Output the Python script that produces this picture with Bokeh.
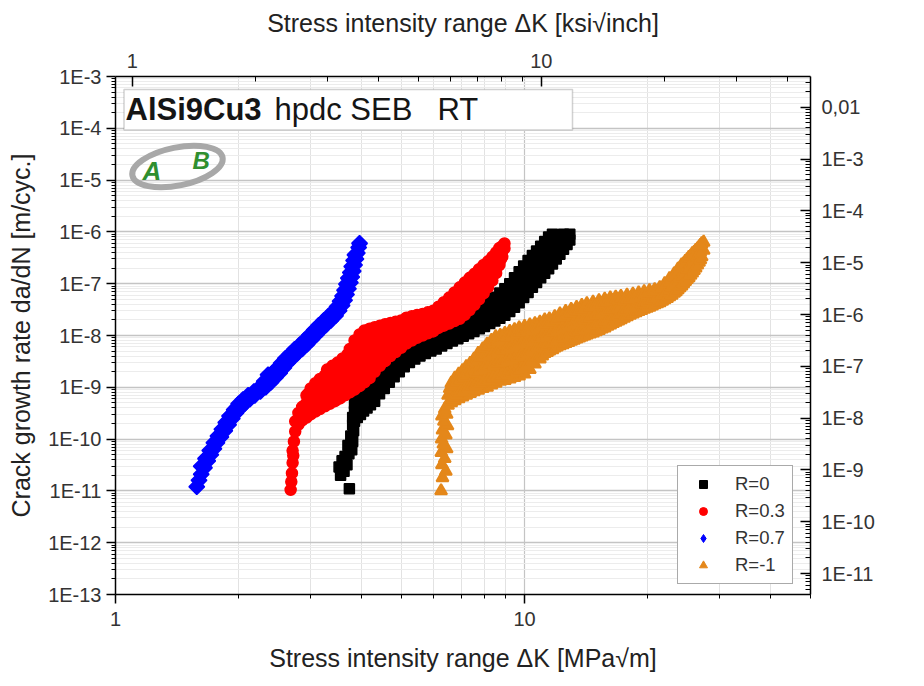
import math
from bokeh.plotting import figure
from bokeh.models import (Range1d, LogScale, LogAxis, FixedTicker, CustomJSTickFormatter,
                          Legend, LegendItem, BoxAnnotation, Label)
from bokeh.embed import file_html
from bokeh.resources import INLINE

# ---------------- data ----------------
# each row: (delta K [MPa*sqrt(m)], da/dN values [m/cycle] ...)
series_names = ["R=0", "R=0.3", "R=0.7", "R=-1"]

r0_rows = [
    (3.73, 1.1e-11), (3.55, 2.0e-11), (3.62, 2.4e-11), (3.52, 2.9e-11), (3.68, 3.2e-11),
    (3.58, 3.8e-11), (3.64, 4.6e-11), (3.72, 5.2e-11), (3.78, 6.2e-11), (3.70, 7.5e-11),
    (3.80, 9.0e-11), (3.76, 1.15e-10), (3.82, 1.45e-10),
    (3.80, 1.9e-10, 2.6e-10),
    (3.84, 2.2e-10, 3.4e-10, 4.8e-10),
    (3.90, 2.6e-10, 4.0e-10, 6.2e-10),
    (3.97, 3.0e-10, 4.8e-10, 7.8e-10),
    (4.04, 3.5e-10, 5.6e-10, 9.5e-10),
    (4.12, 4.0e-10, 6.6e-10, 1.15e-9),
    (4.20, 4.6e-10, 7.8e-10, 1.35e-9, 2.0e-9),
    (4.30, 5.4e-10, 9.0e-10, 1.5e-9, 2.4e-9),
    (4.42, 7.5e-10, 1.15e-9, 1.8e-9, 2.8e-9),
    (4.54, 9.5e-10, 1.4e-9, 2.1e-9, 3.2e-9),
    (4.67, 1.25e-9, 1.8e-9, 2.5e-9, 3.7e-9),
    (4.80, 1.6e-9, 2.2e-9, 3.0e-9, 4.2e-9),
    (4.94, 2.0e-9, 2.7e-9, 3.6e-9, 4.9e-9),
    (5.08, 2.5e-9, 3.3e-9, 4.3e-9, 5.7e-9),
    (5.23, 3.0e-9, 3.9e-9, 5.0e-9, 6.5e-9),
    (5.39, 3.5e-9, 4.5e-9, 5.8e-9, 7.5e-9),
    (5.55, 4.0e-9, 5.1e-9, 6.6e-9, 8.6e-9),
    (5.72, 4.5e-9, 5.8e-9, 7.6e-9, 1.0e-8),
    (5.90, 5.0e-9, 6.6e-9, 8.7e-9, 1.2e-8),
    (6.08, 5.5e-9, 7.5e-9, 1.0e-8, 1.4e-8),
    (6.27, 6.3e-9, 8.6e-9, 1.18e-8, 1.6e-8),
    (6.46, 7.0e-9, 9.6e-9, 1.3e-8, 1.8e-8),
    (6.66, 7.8e-9, 1.07e-8, 1.45e-8, 2.0e-8),
    (6.87, 8.7e-9, 1.2e-8, 1.6e-8, 2.2e-8),
    (7.08, 9.7e-9, 1.33e-8, 1.8e-8, 2.45e-8),
    (7.30, 1.08e-8, 1.48e-8, 2.0e-8, 2.75e-8),
    (7.52, 1.2e-8, 1.65e-8, 2.25e-8, 3.1e-8),
    (7.75, 1.35e-8, 1.85e-8, 2.55e-8, 3.5e-8),
    (7.98, 1.5e-8, 2.1e-8, 2.9e-8, 4.0e-8),
    (8.22, 1.7e-8, 2.35e-8, 3.3e-8, 4.7e-8),
    (8.46, 1.9e-8, 2.7e-8, 3.8e-8, 5.5e-8),
    (8.70, 2.15e-8, 3.1e-8, 4.5e-8, 6.6e-8),
    (8.95, 2.45e-8, 3.6e-8, 5.4e-8, 8.0e-8),
    (9.20, 2.9e-8, 4.3e-8, 6.6e-8, 1.0e-7),
    (9.45, 3.5e-8, 5.3e-8, 8.2e-8, 1.3e-7),
    (9.70, 4.3e-8, 6.6e-8, 1.05e-7, 1.7e-7),
    (9.95, 5.4e-8, 8.4e-8, 1.35e-7, 2.2e-7),
    (10.2, 6.8e-8, 1.07e-7, 1.75e-7, 2.8e-7),
    (10.45, 8.5e-8, 1.35e-7, 2.2e-7, 3.5e-7),
    (10.7, 1.05e-7, 1.7e-7, 2.8e-7, 4.3e-7),
    (10.95, 1.3e-7, 2.1e-7, 3.4e-7, 5.3e-7),
    (11.2, 1.6e-7, 2.6e-7, 4.2e-7, 6.5e-7),
    (11.45, 1.95e-7, 3.2e-7, 5.1e-7, 8.0e-7),
    (11.7, 2.4e-7, 3.9e-7, 6.2e-7, 9.0e-7),
    (11.95, 3.0e-7, 4.7e-7, 7.4e-7),
    (12.2, 3.7e-7, 5.7e-7, 8.5e-7),
    (12.45, 4.6e-7, 6.8e-7, 9.0e-7),
    (12.7, 5.7e-7, 8.0e-7),
    (12.9, 7.0e-7, 9.0e-7),
]

r03_rows = [
    (2.68, 1.05e-11), (2.69, 1.5e-11), (2.70, 2.2e-11), (2.71, 3.5e-11), (2.72, 4.8e-11),
    (2.71, 6.0e-11), (2.73, 9.0e-11),
    (2.75, 1.4e-10, 2.2e-10),
    (2.80, 1.9e-10, 3.2e-10),
    (2.86, 2.3e-10, 4.2e-10),
    (2.93, 2.6e-10, 5.0e-10, 7.0e-10),
    (3.00, 3.0e-10, 5.8e-10, 9.5e-10),
    (3.08, 3.4e-10, 6.6e-10, 1.2e-9),
    (3.16, 3.8e-10, 7.5e-10, 1.45e-9),
    (3.25, 4.3e-10, 8.5e-10, 1.7e-9),
    (3.34, 4.8e-10, 9.5e-10, 1.95e-9),
    (3.44, 5.4e-10, 1.1e-9, 2.3e-9),
    (3.54, 6.1e-10, 1.25e-9, 2.7e-9),
    (3.64, 7.0e-10, 1.45e-9, 3.2e-9),
    (3.74, 8.0e-10, 1.7e-9, 3.8e-9, 5.5e-9),
    (3.84, 9.0e-10, 2.0e-9, 4.5e-9, 8.0e-9),
    (3.95, 1.05e-9, 2.3e-9, 5.2e-9, 1.05e-8),
    (4.06, 1.25e-9, 2.6e-9, 5.8e-9, 1.25e-8),
    (4.18, 1.5e-9, 3.0e-9, 6.4e-9, 1.35e-8),
    (4.30, 2.0e-9, 3.6e-9, 7.0e-9, 1.45e-8),
    (4.43, 2.6e-9, 4.3e-9, 7.8e-9, 1.55e-8),
    (4.56, 3.2e-9, 5.0e-9, 8.6e-9, 1.65e-8),
    (4.70, 4.0e-9, 6.0e-9, 9.6e-9, 1.75e-8),
    (4.84, 4.8e-9, 7.0e-9, 1.06e-8, 1.85e-8),
    (4.99, 5.8e-9, 8.0e-9, 1.15e-8, 1.95e-8),
    (5.14, 7.0e-9, 1.0e-8, 1.5e-8, 2.2e-8),
    (5.30, 8.0e-9, 1.12e-8, 1.65e-8, 2.35e-8),
    (5.46, 9.0e-9, 1.25e-8, 1.8e-8, 2.5e-8),
    (5.63, 1.0e-8, 1.4e-8, 1.95e-8, 2.6e-8),
    (5.80, 1.1e-8, 1.5e-8, 2.1e-8, 2.8e-8),
    (5.98, 1.2e-8, 1.65e-8, 2.3e-8, 3.0e-8),
    (6.16, 1.4e-8, 1.9e-8, 2.6e-8, 3.6e-8),
    (6.35, 1.55e-8, 2.2e-8, 3.1e-8, 4.4e-8),
    (6.54, 1.7e-8, 2.5e-8, 3.7e-8, 5.4e-8),
    (6.74, 1.9e-8, 2.9e-8, 4.5e-8, 6.8e-8),
    (6.94, 2.1e-8, 3.4e-8, 5.5e-8, 8.5e-8),
    (7.14, 2.5e-8, 4.1e-8, 6.7e-8, 1.05e-7),
    (7.34, 3.1e-8, 5.0e-8, 8.2e-8, 1.3e-7),
    (7.54, 3.9e-8, 6.3e-8, 1.0e-7, 1.55e-7),
    (7.74, 5.0e-8, 8.0e-8, 1.25e-7, 1.9e-7),
    (7.94, 6.5e-8, 1.0e-7, 1.55e-7, 2.3e-7),
    (8.14, 8.5e-8, 1.3e-7, 1.9e-7, 2.7e-7),
    (8.34, 1.15e-7, 1.7e-7, 2.4e-7, 3.3e-7),
    (8.52, 1.6e-7, 2.2e-7, 3.0e-7, 4.0e-7),
    (8.68, 2.3e-7, 3.0e-7, 3.9e-7, 4.9e-7),
    (8.82, 3.3e-7, 4.2e-7, 5.3e-7),
    (8.93, 4.8e-7, 6.0e-7),
    # second specimen scatter (staggered points inside the band)
    (2.96, 4.0e-10, 7.5e-10), (3.04, 4.5e-10, 8.5e-10), (3.12, 5.0e-10, 9.5e-10),
    (3.20, 5.5e-10, 1.1e-9), (3.29, 6.2e-10, 1.25e-9, 2.2e-9), (3.39, 7.0e-10, 1.45e-9, 2.6e-9),
    (3.49, 8.0e-10, 1.65e-9, 3.0e-9), (3.59, 9.0e-10, 1.9e-9, 3.6e-9), (3.69, 1.0e-9, 2.2e-9, 4.3e-9),
    (3.79, 1.2e-9, 2.6e-9, 5.5e-9), (3.89, 1.35e-9, 3.0e-9, 6.8e-9), (4.00, 1.6e-9, 3.5e-9, 7.5e-9),
    (4.12, 1.9e-9, 4.0e-9, 8.5e-9, 1.15e-8), (4.24, 2.4e-9, 4.6e-9, 9.5e-9, 1.25e-8),
    (4.36, 2.9e-9, 5.4e-9, 1.05e-8), (4.50, 3.5e-9, 6.2e-9, 1.15e-8), (4.63, 4.2e-9, 7.0e-9, 1.25e-8),
    (4.77, 5.0e-9, 8.0e-9, 1.35e-8), (4.91, 6.0e-9, 9.0e-9, 1.45e-8), (5.06, 7.2e-9, 1.15e-8, 1.7e-8),
    (5.22, 8.5e-9, 1.3e-8, 1.95e-8), (5.38, 9.5e-9, 1.45e-8, 2.1e-8), (5.55, 1.07e-8, 1.6e-8, 2.25e-8),
    (5.72, 1.2e-8, 1.75e-8, 2.4e-8), (5.89, 1.3e-8, 1.95e-8, 2.6e-8), (6.07, 1.45e-8, 2.1e-8, 2.9e-8),
    (6.25, 1.6e-8, 2.4e-8, 3.4e-8), (6.44, 1.8e-8, 2.7e-8, 4.0e-8), (6.64, 2.0e-8, 3.1e-8, 4.8e-8),
    (6.84, 2.3e-8, 3.7e-8, 5.8e-8), (7.04, 2.7e-8, 4.4e-8, 7.2e-8), (7.24, 3.3e-8, 5.4e-8, 8.8e-8),
    (7.44, 4.1e-8, 6.8e-8, 1.1e-7), (7.64, 5.2e-8, 8.5e-8, 1.35e-7), (7.84, 6.7e-8, 1.05e-7, 1.65e-7),
    (8.04, 8.8e-8, 1.35e-7, 2.0e-7), (8.24, 1.2e-7, 1.75e-7, 2.5e-7), (8.43, 1.6e-7, 2.3e-7, 3.1e-7),
    (8.60, 2.2e-7, 3.0e-7, 3.9e-7), (8.76, 3.0e-7, 3.9e-7, 4.8e-7),
]

r07_rows = [
    # main track
    (1.58, 1.2e-11), (1.60, 1.6e-11), (1.62, 2.1e-11), (1.65, 2.8e-11), (1.68, 3.8e-11),
    (1.71, 5.0e-11), (1.74, 6.5e-11), (1.77, 8.5e-11), (1.81, 1.1e-10), (1.85, 1.45e-10),
    (1.89, 1.9e-10), (1.93, 2.5e-10), (1.97, 3.2e-10), (2.02, 4.0e-10), (2.07, 4.9e-10),
    (2.13, 5.9e-10), (2.19, 7.0e-10), (2.26, 8.3e-10), (2.33, 1.0e-9), (2.40, 1.25e-9),
    (2.46, 1.55e-9), (2.52, 1.9e-9), (2.58, 2.4e-9), (2.64, 3.0e-9), (2.71, 3.7e-9),
    (2.78, 4.5e-9), (2.86, 5.5e-9), (2.94, 6.8e-9), (3.02, 8.5e-9), (3.10, 1.05e-8),
    (3.18, 1.3e-8), (3.27, 1.6e-8), (3.36, 1.95e-8), (3.45, 2.4e-8), (3.52, 3.0e-8),
    (3.58, 3.8e-8), (3.63, 4.8e-8), (3.67, 6.2e-8), (3.71, 8.0e-8), (3.75, 1.05e-7),
    (3.78, 1.35e-7), (3.81, 1.75e-7), (3.84, 2.3e-7), (3.87, 3.0e-7), (3.90, 3.9e-7),
    (3.93, 5.0e-7), (3.95, 6.0e-7),
    # upper-left track
    (1.62, 3.0e-11), (1.66, 4.2e-11), (1.70, 6.0e-11), (1.74, 8.5e-11), (1.78, 1.15e-10),
    (1.82, 1.55e-10), (1.86, 2.1e-10), (1.90, 2.8e-10), (1.95, 3.7e-10), (2.00, 4.8e-10),
    (2.05, 5.8e-10), (2.11, 7.0e-10), (2.18, 8.3e-10), (2.25, 1.0e-9), (2.31, 1.3e-9),
    (2.36, 1.75e-9), (2.42, 1.9e-9), (2.48, 2.3e-9), (2.54, 2.9e-9), (2.60, 3.6e-9),
    (2.67, 4.4e-9), (2.74, 5.4e-9), (2.82, 6.6e-9), (2.90, 8.2e-9), (2.98, 1.02e-8),
    (3.06, 1.27e-8), (3.14, 1.58e-8), (3.23, 1.95e-8), (3.32, 2.4e-8), (3.41, 2.9e-8),
    (3.48, 3.6e-8), (3.54, 4.6e-8), (3.59, 5.8e-8), (3.63, 7.5e-8), (3.67, 9.8e-8),
    (3.71, 1.28e-7), (3.75, 1.65e-7), (3.78, 2.15e-7), (3.82, 2.8e-7), (3.85, 3.6e-7),
]

rm1_rows = [
    (6.25, 1.0e-11), (6.30, 1.8e-11), (6.42, 2.4e-11), (6.28, 3.2e-11), (6.38, 4.2e-11),
    (6.26, 5.5e-11), (6.45, 6.5e-11), (6.33, 8.0e-11), (6.27, 1.0e-10), (6.42, 1.2e-10),
    (6.30, 1.5e-10), (6.48, 1.8e-10), (6.35, 2.2e-10), (6.28, 2.8e-10), (6.45, 3.0e-10),
    (6.38, 3.8e-10),
    (6.50, 4.5e-10, 7.0e-10),
    (6.62, 5.0e-10, 8.0e-10, 1.2e-9),
    (6.75, 5.5e-10, 9.0e-10, 1.5e-9),
    (6.90, 6.0e-10, 1.0e-9, 1.8e-9),
    (7.05, 6.5e-10, 1.1e-9, 2.1e-9),
    (7.20, 7.0e-10, 1.25e-9, 2.5e-9),
    (7.36, 7.6e-10, 1.4e-9, 2.9e-9),
    (7.52, 8.2e-10, 1.5e-9, 2.3e-9, 3.5e-9),
    (7.70, 8.8e-10, 1.6e-9, 2.8e-9, 4.5e-9),
    (7.90, 9.5e-10, 1.7e-9, 3.0e-9, 5.5e-9),
    (8.10, 1.0e-9, 1.8e-9, 3.2e-9, 4.8e-9, 6.8e-9),
    (8.30, 1.1e-9, 1.9e-9, 3.4e-9, 5.5e-9, 8.0e-9),
    (8.50, 1.2e-9, 2.1e-9, 3.6e-9, 6.0e-9, 9.5e-9),
    (8.72, 1.3e-9, 2.2e-9, 3.8e-9, 6.3e-9, 1.0e-8),
    (8.95, 1.35e-9, 2.4e-9, 4.1e-9, 6.8e-9, 1.1e-8),
    (9.20, 1.45e-9, 2.6e-9, 4.4e-9, 7.3e-9, 1.2e-8),
    (9.45, 1.55e-9, 2.8e-9, 4.7e-9, 7.8e-9, 1.3e-8),
    (9.70, 1.65e-9, 3.0e-9, 5.1e-9, 8.4e-9, 1.4e-8),
    (10.0, 1.8e-9, 3.2e-9, 5.5e-9, 9.0e-9, 1.5e-8),
    (10.3, 2.2e-9, 3.6e-9, 6.0e-9, 9.6e-9, 1.6e-8),
    (10.6, 2.8e-9, 4.3e-9, 6.6e-9, 1.05e-8, 1.7e-8),
    (10.9, 3.5e-9, 5.2e-9, 7.5e-9, 1.15e-8, 1.8e-8),
    (11.2, 4.5e-9, 7.4e-9, 1.2e-8, 2.0e-8),
    (11.5, 5.0e-9, 8.1e-9, 1.3e-8, 2.1e-8),
    (11.85, 5.7e-9, 9.0e-9, 1.45e-8, 2.3e-8),
    (12.2, 6.3e-9, 1.0e-8, 1.6e-8, 2.6e-8),
    (12.6, 7.0e-9, 1.12e-8, 1.8e-8, 2.9e-8),
    (13.0, 7.7e-9, 1.23e-8, 2.0e-8, 3.2e-8),
    (13.4, 8.5e-9, 1.36e-8, 2.2e-8, 3.5e-8),
    (13.8, 9.3e-9, 1.48e-8, 2.4e-8, 3.8e-8),
    (14.2, 1.02e-8, 1.62e-8, 2.6e-8, 4.1e-8),
    (14.7, 1.12e-8, 1.77e-8, 2.8e-8, 4.4e-8),
    (15.2, 1.25e-8, 1.94e-8, 3.0e-8, 4.7e-8),
    (15.7, 1.4e-8, 2.1e-8, 3.3e-8, 5.0e-8),
    (16.2, 1.6e-8, 2.4e-8, 3.6e-8, 5.3e-8),
    (16.7, 1.8e-8, 2.6e-8, 3.8e-8, 5.5e-8),
    (17.2, 2.0e-8, 2.8e-8, 4.0e-8, 5.7e-8),
    (17.8, 2.3e-8, 3.7e-8, 6.0e-8),
    (18.4, 2.6e-8, 4.0e-8, 6.3e-8),
    (19.0, 2.9e-8, 4.4e-8, 6.6e-8),
    (19.6, 3.2e-8, 4.8e-8, 7.0e-8),
    (20.2, 3.5e-8, 5.2e-8, 7.3e-8),
    (20.8, 3.9e-8, 5.6e-8, 7.7e-8),
    (21.4, 4.3e-8, 6.1e-8, 8.4e-8),
    (22.0, 4.9e-8, 7.0e-8, 1.0e-7),
    (22.6, 5.6e-8, 8.3e-8, 1.25e-7),
    (23.2, 6.5e-8, 1.0e-7, 1.55e-7),
    (23.7, 7.6e-8, 1.2e-7, 1.9e-7),
    (24.2, 9.0e-8, 1.45e-7, 2.3e-7),
    (24.7, 1.1e-7, 1.75e-7, 2.7e-7),
    (25.2, 1.3e-7, 2.1e-7, 3.2e-7),
    (25.7, 1.6e-7, 2.5e-7, 3.8e-7),
    (26.2, 2.0e-7, 3.0e-7, 4.4e-7),
    (26.7, 2.6e-7, 3.7e-7, 5.1e-7),
    (27.1, 3.3e-7, 4.6e-7, 5.9e-7),
    (27.4, 4.4e-7, 6.3e-7),
    # staggered scatter points inside the band
    (6.56, 5.5e-10, 9.5e-10), (6.68, 6.0e-10, 1.05e-9), (6.82, 7.0e-10, 1.25e-9),
    (6.97, 8.0e-10, 1.4e-9), (7.12, 8.5e-10, 1.6e-9), (7.28, 9.5e-10, 1.9e-9), (7.44, 1.05e-9, 2.0e-9),
    (7.61, 1.1e-9, 1.9e-9, 3.2e-9), (7.80, 1.2e-9, 2.2e-9, 3.8e-9), (8.00, 1.3e-9, 2.4e-9, 4.0e-9, 5.8e-9),
    (8.20, 1.4e-9, 2.6e-9, 4.1e-9, 6.3e-9), (8.40, 1.5e-9, 2.7e-9, 4.5e-9, 7.2e-9),
    (8.61, 1.6e-9, 2.9e-9, 4.8e-9, 7.8e-9), (8.83, 1.7e-9, 3.1e-9, 5.2e-9, 8.4e-9),
    (9.07, 1.8e-9, 3.3e-9, 5.6e-9, 9.2e-9), (9.32, 1.9e-9, 3.6e-9, 6.0e-9, 1.0e-8),
    (9.57, 2.0e-9, 3.9e-9, 6.4e-9, 1.08e-8), (9.85, 2.3e-9, 4.2e-9, 7.0e-9, 1.15e-8),
    (10.15, 2.7e-9, 4.5e-9, 7.5e-9, 1.25e-8), (10.45, 3.2e-9, 5.0e-9, 8.0e-9, 1.3e-8),
    (10.75, 3.9e-9, 6.0e-9, 9.0e-9, 1.4e-8), (11.05, 4.0e-9, 6.0e-9, 9.5e-9, 1.55e-8),
    (11.35, 4.7e-9, 6.3e-9, 1.0e-8, 1.65e-8), (11.7, 5.3e-9, 7.1e-9, 1.15e-8, 1.8e-8),
    (12.0, 6.0e-9, 8.0e-9, 1.25e-8, 2.0e-8), (12.4, 6.6e-9, 8.8e-9, 1.4e-8, 2.25e-8),
    (12.8, 7.3e-9, 9.8e-9, 1.55e-8, 2.5e-8), (13.2, 8.1e-9, 1.08e-8, 1.7e-8, 2.75e-8),
    (13.6, 8.9e-9, 1.2e-8, 1.85e-8, 3.0e-8), (14.0, 9.8e-9, 1.3e-8, 2.0e-8, 3.2e-8),
    (14.45, 1.07e-8, 1.42e-8, 2.2e-8, 3.5e-8), (14.95, 1.18e-8, 1.58e-8, 2.45e-8, 3.8e-8),
    (15.45, 1.33e-8, 1.75e-8, 2.7e-8, 4.1e-8), (15.95, 1.5e-8, 1.95e-8, 3.0e-8, 4.4e-8),
    (16.45, 1.7e-8, 2.2e-8, 3.2e-8, 4.7e-8), (16.95, 1.9e-8, 2.4e-8, 3.4e-8, 4.9e-8),
    (17.5, 2.15e-8, 3.0e-8, 4.7e-8), (18.1, 2.45e-8, 3.4e-8, 5.0e-8), (18.7, 2.75e-8, 3.7e-8, 5.4e-8),
    (19.3, 3.05e-8, 4.1e-8, 5.8e-8), (19.9, 3.35e-8, 4.5e-8, 6.1e-8), (20.5, 3.7e-8, 4.9e-8, 6.5e-8),
    (21.1, 4.1e-8, 5.3e-8, 7.1e-8), (21.7, 4.6e-8, 6.0e-8, 8.2e-8), (22.3, 5.2e-8, 7.0e-8, 1.0e-7),
    (22.9, 6.0e-8, 8.5e-8, 1.25e-7), (23.45, 7.0e-8, 1.05e-7, 1.6e-7), (23.95, 8.3e-8, 1.3e-7, 2.0e-7),
    (24.45, 1.0e-7, 1.6e-7, 2.4e-7), (24.95, 1.2e-7, 1.9e-7, 2.9e-7), (25.45, 1.45e-7, 2.3e-7, 3.4e-7),
    (25.95, 1.8e-7, 2.8e-7, 4.0e-7), (26.45, 2.3e-7, 3.3e-7, 4.7e-7), (26.9, 2.9e-7, 4.1e-7, 5.5e-7),
]

# axis ranges / tick values
x_range_mpa = (1.0, 50.0)
y_range_m = (1e-13, 1e-3)
MPA_PER_KSI = 1.0988      # 1 ksi*sqrt(in) = 1.0988 MPa*sqrt(m)
M_PER_INCH = 0.0254
x_major_ticks = [1, 10]
y_major_exps = list(range(-13, -2))          # 1E-13 .. 1E-3
y_right_major_exps = list(range(-11, -1))    # 1E-11 .. 0,01
title_bold = "AlSi9Cu3"
title_rest = "hpdc SEB"
title_rt = "RT"


def flatten(rows):
    ks, rs = [], []
    for row in rows:
        for r in row[1:]:
            ks.append(row[0])
            rs.append(r)
    return ks, rs


# ---------------- layout helpers (page pixel -> data) ----------------
FRAME_L, FRAME_R, FRAME_T, FRAME_B = 123, 818, 84, 602


def px2x(px):
    return x_range_mpa[0] * 10 ** ((px - FRAME_L) / (FRAME_R - FRAME_L) * math.log10(x_range_mpa[1] / x_range_mpa[0]))


def py2y(py):
    dec = math.log10(y_range_m[1] / y_range_m[0])
    return y_range_m[1] * 10 ** (-(py - FRAME_T) / (FRAME_B - FRAME_T) * dec)


FONT = "Liberation Sans"

p = figure(x_axis_type="log", y_axis_type="log",
           x_range=Range1d(*x_range_mpa), y_range=Range1d(*y_range_m),
           frame_width=FRAME_R - FRAME_L, frame_height=FRAME_B - FRAME_T,
           min_border_left=FRAME_L - 8, min_border_right=104,
           min_border_top=FRAME_T - 8, min_border_bottom=83,
           output_backend="svg", toolbar_location=None,
           background_fill_color="white", border_fill_color="white")
p.outline_line_color = None

p.extra_x_ranges = {"ksi": Range1d(x_range_mpa[0] / MPA_PER_KSI, x_range_mpa[1] / MPA_PER_KSI)}
p.extra_x_scales = {"ksi": LogScale()}
p.extra_y_ranges = {"inch": Range1d(y_range_m[0] / M_PER_INCH, y_range_m[1] / M_PER_INCH)}
p.extra_y_scales = {"inch": LogScale()}

# tickers
x_minor = [m * 10 ** e for e in (0, 1) for m in range(2, 10) if m * 10 ** e <= x_range_mpa[1]]
x_ticker = FixedTicker(ticks=x_major_ticks, minor_ticks=x_minor)
y_ticker = FixedTicker(ticks=[10.0 ** e for e in y_major_exps],
                       minor_ticks=[m * 10.0 ** e for e in y_major_exps[:-1] for m in range(2, 10)])
top_lo, top_hi = x_range_mpa[0] / MPA_PER_KSI, x_range_mpa[1] / MPA_PER_KSI
top_ticker = FixedTicker(ticks=x_major_ticks,
                         minor_ticks=[m * 10 ** e for e in (0, 1) for m in range(2, 10) if top_lo <= m * 10 ** e <= top_hi])
r_lo, r_hi = y_range_m[0] / M_PER_INCH, y_range_m[1] / M_PER_INCH
right_ticker = FixedTicker(ticks=[10.0 ** e for e in y_right_major_exps],
                           minor_ticks=[m * 10.0 ** e for e in range(-12, -1) for m in range(2, 10)
                                        if r_lo <= m * 10.0 ** e <= r_hi])

fmt_x = CustomJSTickFormatter(code="return String(Math.round(tick));")
fmt_y = CustomJSTickFormatter(code="return '1E' + Math.round(Math.log10(tick));")
fmt_r = CustomJSTickFormatter(code="const e = Math.round(Math.log10(tick)); return e == -2 ? '0,01' : '1E' + e;")


def style_axis(ax, inward):
    ax.axis_line_color = "black"
    ax.axis_line_width = 1.5
    ax.major_tick_line_color = "black"
    ax.major_tick_line_width = 1.5
    ax.minor_tick_line_color = "black"
    ax.minor_tick_line_width = 1
    if inward:
        ax.major_tick_in, ax.major_tick_out = 10, 0
        ax.minor_tick_in, ax.minor_tick_out = 5, 0
    else:
        ax.major_tick_in, ax.major_tick_out = 0, 9
        ax.minor_tick_in, ax.minor_tick_out = 0, 4
    ax.major_label_text_font = FONT
    ax.major_label_text_font_size = "20px"
    ax.major_label_text_color = "#333333"
    ax.axis_label_text_font = FONT
    ax.axis_label_text_font_size = "25px"
    ax.axis_label_text_font_style = "normal"
    ax.axis_label_text_color = "#222222"


bx = p.xaxis[0]
bx.ticker = x_ticker
bx.formatter = fmt_x
bx.axis_label = "Stress intensity range ΔK [MPa√m]"
style_axis(bx, False)
bx.major_label_standoff = 8
bx.axis_label_standoff = 15

ly = p.yaxis[0]
ly.ticker = y_ticker
ly.formatter = fmt_y
ly.axis_label = "Crack growth rate da/dN [m/cyc.]"
style_axis(ly, False)
ly.major_label_standoff = 5
ly.axis_label_standoff = 10

top = LogAxis(x_range_name="ksi", ticker=top_ticker, formatter=fmt_x,
              axis_label="Stress intensity range ΔK [ksi√inch]")
style_axis(top, True)
top.major_label_standoff = 9
top.axis_label_standoff = 14
p.add_layout(top, "above")

right = LogAxis(y_range_name="inch", ticker=right_ticker, formatter=fmt_r)
style_axis(right, True)
right.major_label_standoff = 11
p.add_layout(right, "right")

# right axis title, reading bottom-to-top like the left one
p.add_layout(Label(x=px2x(908), y=py2y(336), text="Crack growth rate da/dN [inch/cyc.]",
                   angle=math.pi / 2, text_align="center", text_baseline="middle",
                   text_font=FONT, text_font_size="24px", text_color="#222222"))

# grids
p.xgrid.ticker = x_ticker
p.ygrid.ticker = y_ticker
p.xgrid.grid_line_color = "#c4c4c4"
p.xgrid.grid_line_width = 1.2
p.xgrid.minor_grid_line_color = "#e2e2e2"
p.ygrid.grid_line_color = "#c4c4c4"
p.ygrid.grid_line_width = 1.6
p.ygrid.minor_grid_line_color = "#ececec"

# data
series_rows = [r0_rows, r03_rows, r07_rows, rm1_rows]
COLORS = ["#000000", "#ff0000", "#0000ff", "#e4871a"]
MARKERS = ["square", "circle", "square", "triangle"]
ANGLES = [0, 0, math.pi / 4, 0]          # blue diamonds = squares turned by 45 degrees
SIZES = [10, 11, 11, 12]
LINE_W = [1.5, 1.5, 1.5, 2]
LEG_MARKERS = ["square", "circle", "diamond", "triangle"]
LEG_SIZES = [9, 10, 14, 11]

leg_renderers = []
for rows, c, m, a, s, lw, lm, ls in zip(series_rows, COLORS, MARKERS, ANGLES, SIZES, LINE_W,
                                        LEG_MARKERS, LEG_SIZES):
    ks, vs = flatten(rows)
    p.scatter(ks, vs, marker=m, angle=a, size=s, fill_color=c, line_color=c, line_width=lw)
    # smaller copy of the first point (hidden under the full-size marker) used for the legend symbol
    leg_renderers.append(p.scatter(ks[:1], vs[:1], marker=lm, size=ls, fill_color=c, line_color=c))

legend = Legend(items=[LegendItem(label=n, renderers=[g]) for n, g in zip(series_names, leg_renderers)],
                location=(685 - FRAME_L, FRAME_B - 592),
                label_text_font=FONT, label_text_font_size="18.5px", label_text_color="#333333",
                glyph_width=36, glyph_height=20, label_height=20, spacing=5, padding=7,
                label_standoff=14, margin=0,
                border_line_color="#555555", border_line_width=1.5,
                background_fill_color="white", background_fill_alpha=1.0)
p.add_layout(legend)

# title box
p.add_layout(BoxAnnotation(left=px2x(131.5), right=px2x(580), top=py2y(97), bottom=py2y(137.5),
                           fill_color="white", fill_alpha=1.0, line_color="#666666", line_width=1.5))
p.add_layout(Label(x=px2x(133), y=py2y(117), text=title_bold, text_font=FONT, text_font_style="bold",
                   text_font_size="31px", text_baseline="middle", text_color="#151515"))
p.add_layout(Label(x=px2x(282), y=py2y(117), text=title_rest, text_font=FONT,
                   text_font_size="31px", text_baseline="middle", text_color="#151515"))
p.add_layout(Label(x=px2x(445), y=py2y(117), text=title_rt, text_font=FONT,
                   text_font_size="31px", text_baseline="middle", text_color="#151515"))

# AMB logo (approximation)
p.ellipse(x=[px2x(185)], y=[py2y(174)], width=92, height=38, width_units="screen", height_units="screen",
          angle=0.2, fill_color=None, line_color="#a8a8a8", line_width=6)
p.add_layout(Label(x=px2x(150), y=py2y(178), text="A", text_font=FONT, text_font_style="bold italic",
                   text_font_size="26px", text_baseline="middle", text_color="#2f8f2f"))
p.add_layout(Label(x=px2x(200), y=py2y(168), text="B", text_font=FONT, text_font_style="bold italic",
                   text_font_size="24px", text_baseline="middle", text_color="#2f8f2f"))

open("out.html", "w").write(file_html(p, INLINE))
